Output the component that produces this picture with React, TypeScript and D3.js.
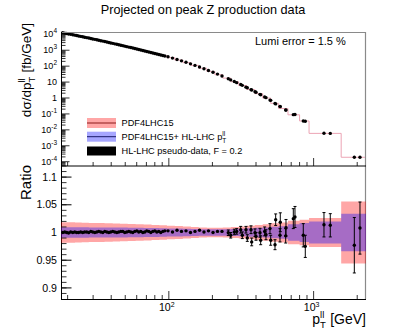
import React from 'react';
import * as d3 from 'd3';

// ---------- data ----------
const ptValues = [
  18.5, 19.1, 19.7, 20.3, 21.0, 21.7, 22.4, 23.1, 23.8, 24.6, 25.4, 26.2, 27.1, 28.0, 28.9, 29.8,
  30.8, 31.8, 32.8, 33.9, 35.0, 36.1, 37.3, 38.5, 39.7, 41.0, 42.3, 43.7, 45.1, 46.6, 48.1, 49.6,
  51.2, 52.9, 54.6, 56.4, 58.2, 60.1, 62.0, 64.0, 66.1, 68.2, 70.4, 72.7, 75.1, 77.5, 80.0, 82.6,
  85.3, 88.0, 90.9, 93.8,
  98.7, 106.0, 113.9, 122.3, 131.4, 141.1, 151.6, 162.9, 174.9, 187.9, 201.9, 216.8, 232.9,
  257.4, 267.5, 283.3, 294.3, 313.6, 321.7, 341.1, 348.3, 369.4, 373.5, 393.7, 400, 426.2, 430.9,
  459.2, 468.7, 499.7, 505.3, 541.1, 547, 585.7, 588.6, 641.3, 644.4, 723.8, 743.4, 848.3, 875.9,
  1179, 1303, 1910, 2090,
];

const xsecValues = [
  1.25e4, 1.18e4, 1.12e4, 1.053e4, 9.93e3, 9.37e3, 8.83e3, 8.32e3, 7.84e3, 7.38e3, 6.95e3, 6.54e3,
  6.15e3, 5.79e3, 5.44e3, 5.11e3, 4.8e3, 4.51e3, 4.23e3, 3.97e3, 3.73e3, 3.49e3, 3.28e3, 3.07e3,
  2.87e3, 2.69e3, 2.52e3, 2.36e3, 2.21e3, 2.06e3, 1.93e3, 1.8e3, 1.68e3, 1.57e3, 1.47e3, 1.37e3,
  1.28e3, 1.19e3, 1.11e3, 1.03e3, 963, 897, 834, 777, 722, 672, 624, 580, 539, 500, 464, 431,
  385, 320, 263, 214.5, 174, 139.5, 111, 87.8, 68.8, 53.5, 41.3, 31.6, 24.0,
  16.1, 13.7, 10.8, 9.2, 6.98, 6.24, 4.8, 4.37, 3.34, 3.17, 2.48, 2.3, 1.69, 1.6, 1.17, 1.05,
  0.74, 0.71, 0.457, 0.427, 0.295, 0.288, 0.178, 0.174, 0.09, 0.091, 0.036, 0.035,
  6.1e-3, 6.0e-3, 1.9e-4, 1.9e-4,
];

const ratioValues = [
  1.0, 1.001, 1.0, 0.999, 1.001, 1.0, 1.001, 1.0, 1.0, 1.001,
  1.0, 1.001, 1.001, 1.0, 1.002, 1.001, 1.0, 1.001, 1.002, 1.001,
  1.0, 1.002, 1.001, 1.0, 1.001, 1.002, 1.001, 1.0, 1.001, 1.002,
  1.002, 1.0, 1.001, 1.002, 1.001, 1.0, 1.002, 1.003, 1.001, 1.002,
  1.0, 1.001, 1.003, 1.002, 1.0, 1.002, 1.003, 1.001, 1.002, 1.0,
  1.002, 1.003,
  1.003, 1.001, 1.004, 1.002, 1.003, 1.0, 1.002, 1.004, 1.001, 1.003, 1.0, 1.002, 1.002,
  0.9995, 0.995, 1.001, 1.002, 1.005, 0.995, 1.005, 0.99, 1.005, 0.983, 0.9995, 0.993,
  0.9995, 0.986, 1.002, 0.996, 1.007, 0.986, 0.978, 1.023, 0.995, 1.0185, 0.994, 1.0085,
  1.025, 1.028, 0.995, 0.975, 1.014, 1.013, 0.977, 1.008,
];

const errValues = [
  0.001, 0.001, 0.001, 0.001, 0.001, 0.001, 0.001, 0.001, 0.001, 0.001,
  0.001, 0.001, 0.001, 0.001, 0.001, 0.001, 0.001, 0.001, 0.001, 0.001,
  0.001, 0.001, 0.001, 0.001, 0.001, 0.001, 0.001, 0.001, 0.001, 0.001,
  0.0011, 0.0011, 0.0011, 0.0011, 0.0011, 0.0011, 0.0012, 0.0012, 0.0012, 0.0012,
  0.0012, 0.0012, 0.0013, 0.0013, 0.0013, 0.0013, 0.0014, 0.0014, 0.0014, 0.0014,
  0.0015, 0.0015,
  0.0015, 0.0015, 0.0016, 0.0017, 0.0018, 0.0019, 0.002, 0.0021, 0.0022, 0.0024, 0.0026, 0.0028, 0.003,
  0.005, 0.005, 0.005, 0.005, 0.006, 0.006, 0.006, 0.006, 0.007, 0.007, 0.007, 0.007,
  0.008, 0.008, 0.008, 0.009, 0.009, 0.009, 0.009, 0.0105, 0.012, 0.017, 0.013, 0.015,
  0.018, 0.019, 0.021, 0.02, 0.022, 0.021, 0.05, 0.047,
];

// prediction bins (PDF4LHC15 central) and uncertainty bands (half widths in ratio)
const binEdges = [
  18, 20, 22.5, 25, 28, 32, 36, 41, 46, 52, 59, 67, 76, 86, 97, 110, 125, 142, 161, 183, 208,
  236, 268, 304, 345, 392, 445, 505, 573, 665, 800, 930, 1550, 2300,
];
const predXsec = [
  1.21e4, 9.84e3, 7.98e3, 6.48e3, 5.11e3, 3.98e3, 3.1e3, 2.41e3, 1.87e3, 1.43e3, 1.08e3, 814,
  613, 461, 342, 241.5, 166, 111.7, 73.5, 46.6, 29.0, 17.7, 10.5, 6.03, 3.41, 1.87, 0.997,
  0.462, 0.219, 0.088, 0.036, 6.0e-3, 1.9e-4,
];
const pdfBand = [
  0.0185, 0.0183, 0.018, 0.0177, 0.0173, 0.017, 0.0166, 0.0162, 0.0158, 0.0153, 0.0148, 0.0143,
  0.0137, 0.0131, 0.0124, 0.0116, 0.0108, 0.0098, 0.0091, 0.0087, 0.0087, 0.0092, 0.01, 0.011,
  0.0122, 0.0136, 0.015, 0.0165, 0.018, 0.021, 0.023, 0.026, 0.056,
];
const hlBand = [
  0.0095, 0.0095, 0.0094, 0.0093, 0.0092, 0.0091, 0.009, 0.0089, 0.0088, 0.0086, 0.0084, 0.0082,
  0.0079, 0.0076, 0.0073, 0.007, 0.0066, 0.0062, 0.0059, 0.0057, 0.0057, 0.0059, 0.0063, 0.0069,
  0.0076, 0.0084, 0.0092, 0.0102, 0.0113, 0.015, 0.017, 0.02, 0.034,
];

const ratioTicks = [0.9, 0.95, 1, 1.05, 1.1];
const ratioTickLabels = ['0.9', '0.95', '1', '1.05', '1.1'];
const legendLabels = ['PDF4LHC15', 'PDF4LHC15+ HL-LHC p', 'HL-LHC pseudo-data, F = 0.2'];

const FONT = "'Liberation Sans', Arial, Helvetica, sans-serif";

export default function App() {
  const x = d3.scaleLog().domain([18, 2300]).range([61, 366]);
  const yT = d3.scaleLog().domain([Math.pow(10, -4.27), Math.pow(10, 4.144)]).range([166, 32]);
  const yR = d3.scaleLinear().domain([0.88, 1.12]).range([299, 166]);

  const bandPts = (hw: number[]) =>
    hw.flatMap((w, i) => [
      { p: binEdges[i], w },
      { p: binEdges[i + 1], w },
    ]);
  const area = d3
    .area<{ p: number; w: number }>()
    .x((d) => x(d.p))
    .y0((d) => yR(1 - d.w))
    .y1((d) => yR(1 + d.w));

  const predPts = predXsec.flatMap((v, i) => [
    { p: binEdges[i], v },
    { p: binEdges[i + 1], v },
  ]);
  const predLine = d3
    .line<{ p: number; v: number }>()
    .x((d) => x(d.p))
    .y((d) => yT(d.v));

  // log ticks
  const yTopTicks: { v: number; major: boolean; n: number }[] = [];
  for (let n = -5; n <= 4; n++) {
    for (let k = 1; k <= 9; k++) {
      const v = k * Math.pow(10, n);
      const [lo, hi] = yT.domain();
      if (v >= lo && v <= hi) yTopTicks.push({ v, major: k === 1, n });
    }
  }
  const xTicks: { v: number; major: boolean; n: number }[] = [];
  for (let n = 1; n <= 3; n++) {
    for (let k = 1; k <= 9; k++) {
      const v = k * Math.pow(10, n);
      if (v >= 18 && v <= 2300) xTicks.push({ v, major: k === 1, n });
    }
  }
  const ratioMinor = d3.range(89, 113).map((i) => i / 100);

  const pts = ptValues.map((p, i) => ({
    p,
    xs: xsecValues[i],
    r: ratioValues[i],
    e: errValues[i],
  }));

  const topLabel = (n: number) => {
    if (n === 0) return <tspan>1</tspan>;
    if (n === 1) return <tspan>10</tspan>;
    return (
      <>
        <tspan>10</tspan>
        <tspan fontSize={6.5} dy={-4}>
          {String(n)}
        </tspan>
      </>
    );
  };

  const legendY = [123, 136.7, 151];

  return (
    <svg
      width={407}
      height={333}
      style={{ position: 'absolute', left: 0, top: 0, background: '#fff' }}
      fontFamily={FONT}
    >
      <rect x={0} y={0} width={407} height={333} fill="#fff" />
      {/* title */}
      <text x={203} y={14} textAnchor="middle" fontSize={12.7} fill="#000">
        Projected on peak Z production data
      </text>

      {/* ---------- top panel ---------- */}
      <path d={predLine(predPts) || ''} fill="none" stroke="#eca4b4" strokeWidth={1} />
      {pts.map((d, i) => (
        <circle key={'t' + i} cx={x(d.p)} cy={yT(d.xs)} r={1.7} fill="#000" />
      ))}

      {/* frame */}
      <line x1={61} y1={32.5} x2={366} y2={32.5} stroke="#8a8a8a" strokeWidth={1} />
      <line x1={365.5} y1={32} x2={365.5} y2={299} stroke="#8a8a8a" strokeWidth={1.2} />
      <line x1={61.5} y1={32} x2={61.5} y2={299.5} stroke="#000" strokeWidth={1} />
      <line x1={61} y1={166} x2={366} y2={166} stroke="#000" strokeWidth={1} />
      <line x1={61} y1={299.5} x2={366} y2={299.5} stroke="#000" strokeWidth={1} />

      {/* top y ticks */}
      {yTopTicks.map((t, i) => (
        <line
          key={'yt' + i}
          x1={61.5}
          x2={61.5 + (t.major ? 8 : 4)}
          y1={yT(t.v)}
          y2={yT(t.v)}
          stroke="#000"
          strokeWidth={0.8}
        />
      ))}
      {yTopTicks
        .filter((t) => t.major)
        .map((t, i) => (
          <text
            key={'ytl' + i}
            x={57}
            y={yT(t.v) + 3.2}
            textAnchor="end"
            fontSize={9}
            fill="#000"
          >
            {topLabel(t.n)}
          </text>
        ))}

      {/* x ticks on both panels */}
      {xTicks.map((t, i) => (
        <g key={'xt' + i}>
          <line
            x1={x(t.v)}
            x2={x(t.v)}
            y1={166}
            y2={166 - (t.major ? 8 : 4)}
            stroke="#000"
            strokeWidth={0.8}
          />
          <line
            x1={x(t.v)}
            x2={x(t.v)}
            y1={299}
            y2={299 - (t.major ? 8 : 4)}
            stroke="#000"
            strokeWidth={0.8}
          />
        </g>
      ))}
      {xTicks
        .filter((t) => t.major)
        .map((t, i) => (
          <text key={'xtl' + i} x={x(t.v) - 2} y={311} textAnchor="middle" fontSize={10.6} fill="#000">
            <tspan>10</tspan>
            <tspan fontSize={7} dy={-4.5}>
              {String(t.n)}
            </tspan>
          </text>
        ))}

      {/* y title top */}
      <text transform="translate(31,23) rotate(-90)" textAnchor="end" fontSize={13.5} fill="#000">
        <tspan>dσ/dp</tspan>
        <tspan fontSize={9.5} dy={4}>
          T
        </tspan>
        <tspan fontSize={9.5} dx={-5.8} dy={-10}>
          ll
        </tspan>
        <tspan dx={2} dy={6}>
          {' [fb/GeV]'}
        </tspan>
      </text>

      {/* lumi */}
      <text x={255} y={45} fontSize={11} fill="#000">
        Lumi error = 1.5 %
      </text>

      {/* legend */}
      <rect x={87} y={legendY[0] - 5} width={29} height={10} fill="#ff0000" fillOpacity={0.35} />
      <line x1={87} x2={116} y1={legendY[0]} y2={legendY[0]} stroke="#8b1a1a" strokeWidth={1} />
      <rect x={87} y={legendY[1] - 5} width={29} height={10} fill="#0000ff" fillOpacity={0.35} />
      <line x1={87} x2={116} y1={legendY[1]} y2={legendY[1]} stroke="#1a1a6b" strokeWidth={1} />
      <rect x={87} y={legendY[2] - 4.5} width={29} height={9} fill="#000" />
      <text x={121.5} y={legendY[0] + 3.3} fontSize={9.2} fill="#000">
        {legendLabels[0]}
      </text>
      <text x={121.5} y={legendY[1] + 3.3} fontSize={9.2} fill="#000">
        <tspan>{legendLabels[1]}</tspan>
        <tspan fontSize={6.5} dy={2.5}>
          T
        </tspan>
        <tspan fontSize={6.5} dx={-4} dy={-7}>
          ll
        </tspan>
      </text>
      <text x={121.5} y={legendY[2] + 3.3} fontSize={9.2} fill="#000">
        {legendLabels[2]}
      </text>

      {/* ---------- ratio panel ---------- */}
      <path d={area(bandPts(pdfBand)) || ''} fill="#ff0000" fillOpacity={0.35} />
      <path d={area(bandPts(hlBand)) || ''} fill="#0000ff" fillOpacity={0.35} />
      {pts.map((d, i) => {
        const cx = x(d.p);
        const y1 = yR(d.r + d.e);
        const y2 = yR(d.r - d.e);
        const showBar = y2 - y1 > 3.5;
        return (
          <g key={'r' + i}>
            {showBar && (
              <>
                <line x1={cx} x2={cx} y1={y1} y2={y2} stroke="#000" strokeWidth={1} />
                <line x1={cx - 1.5} x2={cx + 1.5} y1={y1} y2={y1} stroke="#000" strokeWidth={1} />
                <line x1={cx - 1.5} x2={cx + 1.5} y1={y2} y2={y2} stroke="#000" strokeWidth={1} />
              </>
            )}
            <circle cx={cx} cy={yR(d.r)} r={1.7} fill="#000" />
          </g>
        );
      })}

      {/* ratio y ticks */}
      {ratioMinor.map((v, i) => (
        <line key={'rm' + i} x1={61.5} x2={66.5} y1={yR(v)} y2={yR(v)} stroke="#000" strokeWidth={0.8} />
      ))}
      {ratioTicks.map((v, i) => (
        <g key={'rt' + i}>
          <line x1={61.5} x2={71.5} y1={yR(v)} y2={yR(v)} stroke="#000" strokeWidth={1} />
          <text x={57} y={yR(v) + 3.7} textAnchor="end" fontSize={10.6} fill="#000">
            {ratioTickLabels[i]}
          </text>
        </g>
      ))}

      {/* ratio title */}
      <text transform="translate(31,165) rotate(-90)" textAnchor="end" fontSize={15} fill="#000">
        Ratio
      </text>

      {/* x title */}
      <text x={366} y={324} textAnchor="end" fontSize={14} fill="#000">
        <tspan>p</tspan>
        <tspan fontSize={9.5} dy={4}>
          T
        </tspan>
        <tspan fontSize={9.5} dx={-5.8} dy={-10}>
          ll
        </tspan>
        <tspan dx={2} dy={6}>
          {' [GeV]'}
        </tspan>
      </text>
    </svg>
  );
}
